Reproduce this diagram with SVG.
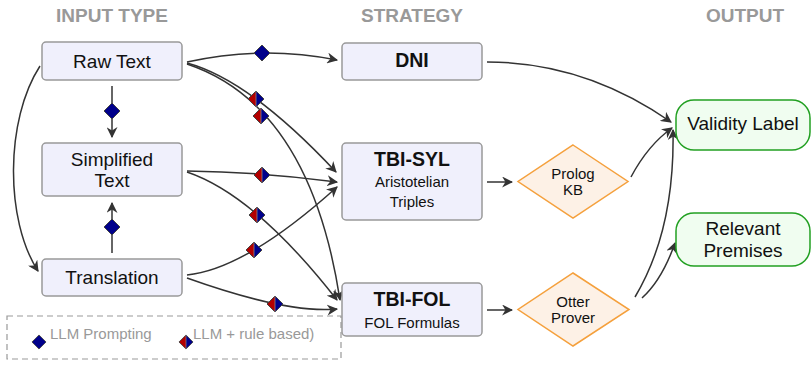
<svg xmlns="http://www.w3.org/2000/svg" width="811" height="365" viewBox="0 0 811 365">
<style>
text{font-family:"Liberation Sans",Arial,sans-serif;fill:#111}
.hdr{font-size:19px;font-weight:bold;fill:#999;text-anchor:middle}
.box{fill:#f0f0fc;stroke:#999;stroke-width:1.5}
.dia{fill:#fdf1e6;stroke:#f5a03c;stroke-width:1.5}
.out{fill:#f0fdf0;stroke:#22a022;stroke-width:1.5}
.m{font-size:19px;text-anchor:middle}
.b{font-size:19.5px;font-weight:bold;text-anchor:middle}
.s{font-size:15px;text-anchor:middle}
.c{fill:none;stroke:#333;stroke-width:1.5;marker-end:url(#ah)}
.lg{font-size:15px;fill:#999}
</style>
<defs>
<marker id="ah" viewBox="0 0 10 10" refX="9" refY="5" markerWidth="11" markerHeight="11" markerUnits="userSpaceOnUse" orient="auto"><path d="M0,0 L10,5 L0,10 L3,5z" fill="#333"/></marker>
<g id="dB"><polygon points="0,-8 8,0 0,8 -8,0" fill="#00008b" stroke="#444" stroke-width="1"/></g>
<g id="dRB"><polygon points="0,-8 0,8 -8,0" fill="#b30000"/><polygon points="0,-8 8,0 0,8" fill="#00008b"/><polygon points="0,-8 8,0 0,8 -8,0" fill="none" stroke="#444" stroke-width="1"/><line x1="0" y1="-8" x2="0" y2="8" stroke="#888" stroke-width="0.8"/></g>
</defs>

<text class="hdr" x="112" y="22">INPUT TYPE</text>
<text class="hdr" x="412" y="22">STRATEGY</text>
<text class="hdr" x="745" y="22">OUTPUT</text>

<g id="connectors">
<path class="c" d="M187,62 Q262,45 337,60"/>
<path class="c" d="M187,63 Q250,80 336,172"/>
<path class="c" d="M187,64 Q310,105 340,300"/>
<path class="c" d="M187,171 Q262,172 337,182"/>
<path class="c" d="M187,172 Q255,195 337,300"/>
<path class="c" d="M187,275 Q246,269 337,187"/>
<path class="c" d="M187,278 Q288,314 337,309"/>
<path class="c" d="M40,66 C5,120 5,220 38,271"/>
<path class="c" d="M112,86 L112,137"/>
<path class="c" d="M112,253 L112,203"/>
<path class="c" d="M487,62 Q585,62 671,122"/>
<path class="c" d="M487,182 L512,182"/>
<path class="c" d="M487,310 L512,310"/>
<path class="c" d="M631,177 Q648,145 672,128"/>
<path class="c" d="M635,297 Q675,230 673,130"/>
<path class="c" d="M642,298 Q662,280 675,243"/>
<use href="#dB" x="262" y="53"/>
<use href="#dRB" x="256" y="99"/>
<use href="#dRB" x="261" y="116"/>
<use href="#dRB" x="262" y="175"/>
<use href="#dRB" x="257" y="215"/>
<use href="#dRB" x="254" y="250"/>
<use href="#dRB" x="275" y="304"/>
<use href="#dB" x="112" y="111"/>
<use href="#dB" x="112" y="227"/>
</g>

<g id="raw"><rect class="box" x="42" y="42" width="140" height="38" rx="4"/><text class="m" x="112" y="68">Raw Text</text></g>
<g id="simplified"><rect class="box" x="42" y="143" width="140" height="53" rx="4"/><text class="m" x="112" y="166">Simplified</text><text class="m" x="112" y="187">Text</text></g>
<g id="translation"><rect class="box" x="42" y="259" width="140" height="37" rx="4"/><text class="m" x="112" y="284">Translation</text></g>
<g id="dni"><rect class="box" x="342" y="43" width="140" height="37" rx="4"/><text class="b" x="412" y="67">DNI</text></g>
<g id="tbisyl"><rect class="box" x="342" y="143" width="140" height="77" rx="4"/><text class="b" x="412" y="166">TBI-SYL</text><text class="s" x="412" y="187">Aristotelian</text><text class="s" x="412" y="207">Triples</text></g>
<g id="tbifol"><rect class="box" x="342" y="283" width="140" height="53" rx="4"/><text class="b" x="412" y="306">TBI-FOL</text><text class="s" x="412" y="328">FOL Formulas</text></g>
<g id="prolog"><polygon class="dia" points="573,145 628,181.5 573,218 518,181.5"/><text class="s" x="573" y="179">Prolog</text><text class="s" x="573" y="195">KB</text></g>
<g id="otter"><polygon class="dia" points="573,273 629,309.5 573,346 518,309.5"/><text class="s" x="573" y="307">Otter</text><text class="s" x="573" y="323">Prover</text></g>
<g id="validity"><rect class="out" x="676" y="100" width="134" height="50" rx="18"/><text class="m" x="743" y="130">Validity Label</text></g>
<g id="premises"><rect class="out" x="676" y="213" width="134" height="53" rx="18"/><text class="m" x="743" y="235">Relevant</text><text class="m" x="743" y="257">Premises</text></g>

<g id="legend">
<rect x="7" y="316" width="334" height="43" fill="none" stroke="#999" stroke-width="1.2" stroke-dasharray="6,4"/>
<g transform="translate(39,342) scale(0.88)"><use href="#dB"/></g>
<text class="lg" x="50" y="339">LLM Prompting</text>
<g transform="translate(186,342) scale(0.88)"><use href="#dRB"/></g>
<text class="lg" x="193" y="339">LLM + rule based)</text>
</g>
</svg>
